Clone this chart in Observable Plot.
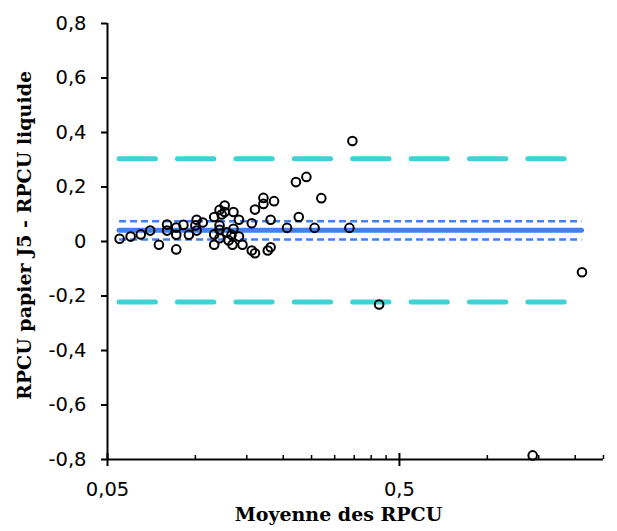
<!DOCTYPE html>
<html>
<head>
<meta charset="utf-8">
<script src="https://cdn.jsdelivr.net/npm/d3@7"></script>
<script src="https://cdn.jsdelivr.net/npm/@observablehq/plot@0.6"></script>
<style>
  html, body { margin: 0; padding: 0; background: #fff; }
  #chart svg { display: block; }
</style>
</head>
<body>
<div id="chart"></div>
<script>
// ---- Data ----
const xMean = [0.055, 0.060, 0.065, 0.070, 0.075, 0.080, 0.080, 0.086, 0.086, 0.086,
               0.091, 0.095, 0.101, 0.100, 0.101, 0.106, 0.116, 0.116, 0.116, 0.121,
               0.121, 0.121, 0.121, 0.123, 0.126, 0.126, 0.128, 0.130, 0.135, 0.135,
               0.133, 0.134, 0.141, 0.141, 0.145, 0.156, 0.160, 0.156, 0.160, 0.171,
               0.171, 0.177, 0.181, 0.181, 0.186, 0.206, 0.221, 0.226, 0.240, 0.256,
               0.270, 0.337, 0.345, 0.426, 2.11, 1.43];
const yDiff = [0.010, 0.018, 0.026, 0.040, -0.012, 0.062, 0.040, 0.051, 0.025, -0.029,
               0.061, 0.025, 0.080, 0.059, 0.040, 0.070, 0.090, 0.026, -0.012, 0.116,
               0.059, 0.043, 0.012, 0.099, 0.132, 0.108, 0.034, 0.004, 0.108, 0.047,
               0.025, -0.012, 0.080, 0.018, -0.012, -0.033, -0.043, 0.067, 0.117, 0.160,
               0.138, -0.033, -0.021, 0.080, 0.148, 0.050, 0.218, 0.090, 0.237, 0.050,
               0.159, 0.050, 0.369, -0.231, -0.113, -0.785];

const bias = 0.041;
const biasCI = [0.007, 0.074];
const limitsOfAgreement = [-0.222, 0.304];

const yTicks = [-0.8, -0.6, -0.4, -0.2, 0, 0.2, 0.4, 0.6, 0.8];
const xMajorTicks = [0.05, 0.5];
const xMinorTicks = [0.1, 0.15, 0.2, 0.25, 0.3, 0.35, 0.4, 0.45, 1, 1.5, 2, 2.5];

const xTitle = "Moyenne des RPCU";
const yTitle = "RPCU papier J5 - RPCU liquide";

// ---- Build ----
const points = xMean.map((x, i) => ({x, y: yDiff[i]}));
const xMin = d3.min(xMean), xMax = d3.max(xMean);
const fmt = d => d === 0 ? "0" : String(d).replace(".", ",");

const cyan = "#3dd3d5";
const blue = "#4080f2";

const chart = Plot.plot({
  width: 617,
  height: 531,
  marginLeft: 107,
  marginRight: 14,
  marginTop: 23,
  marginBottom: 72,
  style: {fontFamily: "DejaVu Sans", fontSize: "19.5px", color: "#000", background: "#fff"},
  x: {type: "log", domain: [0.05, 2.5]},
  y: {domain: [-0.8, 0.8]},
  marks: [
    // limits of agreement
    Plot.ruleY(limitsOfAgreement, {y: d => d, x1: xMin, x2: xMax, stroke: cyan, strokeWidth: 5,
      strokeLinecap: "round", strokeDasharray: "36.3,22.1"}),
    // confidence interval of bias
    Plot.ruleY(biasCI, {y: d => d, x1: xMin, x2: xMax, stroke: blue, strokeWidth: 2.5,
      strokeDasharray: "7,4"}),
    // mean bias
    Plot.ruleY([bias], {y: d => d, x1: xMin, x2: xMax, stroke: blue, strokeWidth: 5, strokeLinecap: "round"}),
    // axes lines
    Plot.ruleY([-0.8], {stroke: "#000", strokeWidth: 2}),
    Plot.ruleX([0.05], {stroke: "#000", strokeWidth: 2}),
    // x ticks
    Plot.ruleX(xMajorTicks, {x: d => d, y1: -0.8, y2: -0.8, insetTop: -6, insetBottom: -7, stroke: "#000", strokeWidth: 2}),
    Plot.ruleX(xMinorTicks, {x: d => d, y1: -0.8, y2: -0.8, insetTop: -4, insetBottom: 0, stroke: "#000", strokeWidth: 1.5}),
    Plot.axisX({ticks: xMajorTicks, tickSize: 0, tickPadding: 23, tickFormat: fmt, label: null, fill: "#000"}),
    Plot.axisY({ticks: yTicks, tickSize: 6, tickPadding: 15, tickFormat: fmt, label: null, strokeWidth: 2, fill: "#000"}),
    // points
    Plot.dot(points, {x: "x", y: "y", r: 4.3, stroke: "#000", strokeWidth: 2, fill: "none"}),
    // titles
    Plot.text([xTitle], {frameAnchor: "bottom", lineAnchor: "bottom", dx: -17, dy: 61,
      fontFamily: "DejaVu Serif", fontWeight: "bold", fontSize: 19, fill: "#000"}),
    Plot.text([yTitle], {frameAnchor: "left", rotate: -90, textAnchor: "middle", lineAnchor: "middle",
      dx: -83, dy: -6, fontFamily: "DejaVu Serif", fontWeight: "bold", fontSize: 19, fill: "#000"})
  ]
});
document.getElementById("chart").appendChild(chart);
</script>
</body>
</html>
